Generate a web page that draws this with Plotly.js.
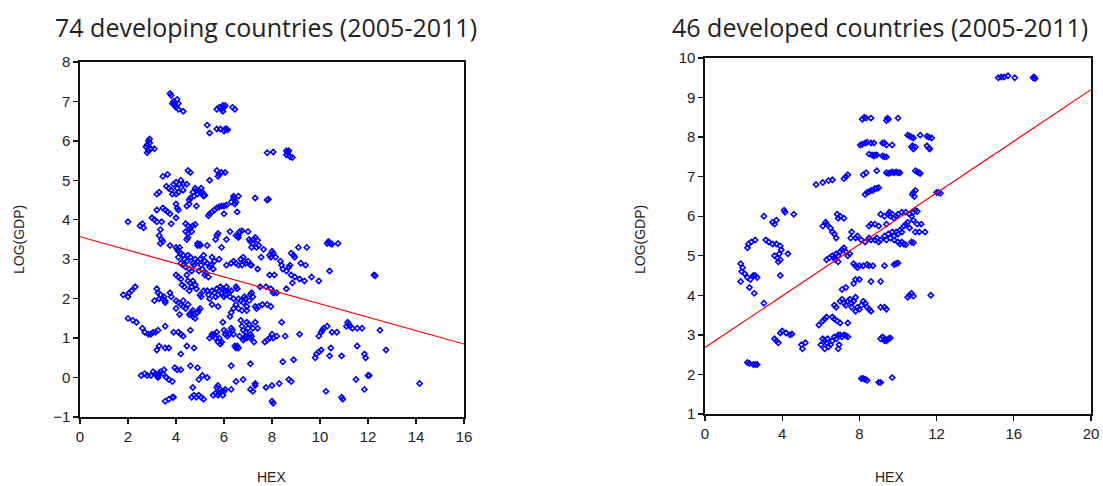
<!DOCTYPE html>
<html><head><meta charset="utf-8">
<script src="https://cdn.plot.ly/plotly-3.0.1.min.js"></script>
<style>body{margin:0;background:#fff}#c{width:1103px;height:486px}</style>
</head><body><div id="c"></div>
<script>
// Left panel: 74 developing countries (HEX, LOG(GDP))
const devHex = [3.75,3.8,3.9,3.85,3.95,4.0,4.05,4.1,4.1,4.3,3.95,
5.7,5.8,5.85,5.9,5.95,6.0,5.95,6.05,6.35,6.45,
5.3,5.4,5.7,5.85,6.0,6.05,6.1,6.15,
2.75,2.8,2.85,2.9,2.85,2.8,2.95,3.1,2.9,
7.8,8.05,8.6,8.65,8.7,8.6,8.75,8.85,
3.45,3.65,4.5,4.6,5.7,5.8,5.9,6.05,5.75,5.4,
3.7,3.8,3.9,4.0,4.05,4.1,4.15,4.2,3.85,4.0,3.6,4.3,4.3,4.45,3.3,3.2,
4.7,4.8,4.85,4.9,4.95,5.0,5.05,5.1,5.15,5.2,4.75,4.6,4.55,
4.0,4.05,4.45,4.55,4.85,3.45,3.55,3.75,4.1,3.2,4.0,3.65,
5.4,5.5,5.6,5.7,5.8,5.9,6.0,6.1,5.35,6.0,6.3,6.4,6.5,6.6,6.4,6.55,6.45,
7.3,7.8,7.85,
2.0,2.5,2.6,2.65,3.0,3.1,3.2,3.4,3.35,3.8,4.4,4.5,4.6,4.7,4.8,4.4,4.55,4.65,4.5,
3.3,3.4,3.35,3.45,3.75,4.0,4.05,4.1,4.15,4.2,4.3,4.45,4.5,4.9,5.0,5.3,5.7,5.75,5.65,5.9,6.1,6.25,6.6,6.65,6.75,7.0,7.05,7.1,7.2,7.25,7.3,7.4,7.45,7.35,7.15,7.65,7.55,8.0,8.05,7.9,7.95,8.15,8.8,8.9,8.95,9.1,9.45,10.3,10.35,10.4,10.45,10.5,10.75,
4.1,4.2,4.3,4.35,4.45,4.5,4.6,4.7,4.75,4.8,4.9,5.0,5.05,5.15,5.2,5.3,5.4,4.4,4.55,4.65,5.1,5.25,5.35,5.2,4.95,
6.1,6.3,6.4,6.5,6.6,6.7,6.8,6.85,6.9,7.0,7.1,7.15,6.75,7.4,8.4,8.45,8.35,8.7,8.75,8.8,8.6,7.9,8.1,8.95,9.2,9.4,9.65,9.95,10.4,12.25,12.3,9.15,9.35,8.85,
4.0,4.1,4.2,4.25,4.35,4.5,4.6,4.65,4.7,4.8,4.85,4.45,4.55,5.0,5.05,5.15,
5.5,5.6,5.7,5.75,5.8,5.85,5.9,5.95,6.0,6.05,6.1,6.15,6.2,6.25,6.3,6.0,5.65,6.5,6.55,5.4,5.5,5.75,6.4,5.3,5.35,
6.6,6.7,6.8,6.85,6.9,6.95,7.05,7.1,7.15,7.2,7.3,7.35,7.45,6.75,6.6,6.95,7.6,7.8,7.95,7.75,7.5,7.95,8.05,8.1,8.2,8.6,6.5,6.4,6.3,6.25,
1.8,2.0,2.05,2.15,2.3,3.2,3.25,3.35,3.45,3.55,3.3,3.1,3.5,3.75,3.8,3.55,4.0,4.1,4.2,4.3,4.4,4.5,4.6,4.7,4.8,4.9,4.95,5.0,4.65,4.15,4.3,4.0,4.75,4.55,4.7,
2.0,2.2,2.35,2.6,2.7,2.85,2.95,3.05,3.15,3.25,3.55,3.9,4.1,4.2,4.3,4.6,4.2,3.2,3.3,3.55,3.7,4.45,4.75,5.4,5.5,5.6,5.7,5.5,5.8,5.75,5.85,5.9,5.95,6.0,6.05,6.1,6.15,6.2,6.3,6.35,6.4,6.45,6.5,6.55,6.6,6.7,6.75,6.8,6.85,6.9,6.95,7.0,7.05,7.1,7.15,7.2,7.3,7.25,7.4,6.95,6.8,6.65,5.65,6.9,7.1,7.7,7.8,7.9,8.0,8.05,8.2,8.55,8.4,9.15,9.95,10.05,10.1,10.15,10.3,10.5,10.7,11.1,11.15,11.2,11.25,11.35,11.55,11.75,12.5,
7.1,8.45,8.9,9.8,9.85,9.95,10.05,10.4,10.45,10.9,11.55,11.85,11.9,12.75,4.9,4.6,4.2,3.95,4.05,6.3,
2.55,2.7,2.8,2.95,3.05,3.15,3.2,3.25,3.3,3.35,3.45,3.6,3.7,3.85,3.5,3.25,4.95,5.1,5.3,6.5,6.8,7.3,8.7,8.8,11.5,12.0,12.05,11.85,14.15,10.25,5.7,5.75,5.85,5.8,5.9,6.0,6.05,5.95,5.75,6.3,7.1,7.2,7.3,7.75,8.0,8.3,4.7,4.65,4.75,4.85,4.95,5.05,5.15,5.55,5.65,3.55,3.7,3.85,3.9,8.0,8.05,10.9,10.95,
5.6,5.8,5.5,5.45,5.55,6.6,6.5,4.9,5.0];
const devGdp = [7.2,7.15,7.0,6.95,6.9,6.85,7.05,6.95,6.8,6.75,6.95,
6.8,6.85,6.85,6.8,6.9,6.85,6.75,6.9,6.85,6.8,
6.4,6.2,6.3,6.3,6.25,6.3,6.3,6.28,
5.85,5.9,6.0,6.05,5.75,5.7,5.8,5.8,5.95,
5.7,5.72,5.75,5.7,5.75,5.65,5.6,5.58,
5.1,5.15,5.25,5.2,5.25,5.15,5.2,5.2,5.1,5.0,
4.8,4.75,4.9,4.95,4.8,4.7,4.9,5.0,4.65,4.65,4.85,4.75,4.9,4.9,4.7,4.65,
4.7,4.8,4.75,4.65,4.75,4.7,4.8,4.7,4.6,4.62,4.6,4.55,4.5,
4.4,4.3,4.35,4.4,4.35,4.3,4.25,4.15,4.25,4.25,4.05,4.2,
4.15,4.2,4.25,4.3,4.33,4.35,4.35,4.37,4.1,4.15,4.45,4.55,4.45,4.6,4.6,4.2,4.4,
4.55,4.5,4.52,
3.95,3.85,3.9,3.8,4.05,4.0,3.95,3.95,3.75,3.9,3.9,3.85,3.8,3.85,3.88,3.7,3.75,3.7,3.65,
3.6,3.5,3.4,3.45,3.35,3.3,3.25,3.2,3.3,3.15,3.1,3.5,3.55,3.4,3.35,3.35,3.6,3.65,3.5,3.3,3.5,3.7,3.6,3.7,3.72,3.7,3.5,3.45,3.4,3.5,3.55,3.48,3.35,3.3,3.3,3.25,3.05,3.2,3.15,3.1,3.05,3.05,3.15,3.1,3.05,3.3,3.3,3.4,3.45,3.42,3.4,3.38,3.4,
3.05,2.9,2.85,3.0,2.95,3.1,3.05,2.9,2.85,3.0,2.95,3.0,2.85,3.1,2.95,2.9,2.8,2.8,2.75,2.7,2.75,2.65,2.55,2.6,2.7,
2.85,2.9,2.95,2.9,2.85,3.0,3.05,2.95,2.9,2.95,2.85,2.85,2.85,2.75,2.85,2.75,2.95,2.8,2.85,2.6,2.7,2.6,2.6,2.55,2.9,2.85,2.55,2.45,2.7,2.6,2.58,2.5,2.45,2.4,
2.6,2.55,2.5,2.35,2.3,2.45,2.4,2.3,2.45,2.35,2.25,2.6,2.2,2.1,2.05,2.2,
2.2,2.15,2.25,2.1,2.2,2.3,2.15,2.25,2.2,2.1,2.3,2.2,2.15,2.05,2.2,2.05,2.05,2.3,2.25,2.0,1.85,1.8,2.0,2.2,2.1,
2.0,1.95,1.9,2.05,2.0,1.8,1.95,2.1,2.15,2.05,1.8,1.75,1.8,1.7,1.75,1.7,1.85,1.85,1.8,2.3,2.3,2.25,2.15,2.15,2.15,2.25,1.85,1.75,1.65,1.55,
2.1,2.05,2.15,2.2,2.3,2.25,2.15,2.1,2.0,1.9,2.0,1.95,2.05,2.15,2.05,1.95,1.95,1.9,1.85,1.8,1.75,1.85,1.6,1.55,1.5,1.65,1.7,1.75,1.65,1.6,1.95,1.75,1.6,1.6,1.7,
1.5,1.45,1.4,1.25,1.15,1.1,1.1,1.15,1.15,1.2,1.3,1.15,1.15,1.1,1.05,1.2,0.6,0.7,0.8,0.75,0.75,0.8,0.75,1.0,1.05,1.1,1.15,1.1,1.0,0.9,0.85,0.9,1.4,1.2,1.1,1.15,1.05,1.1,1.25,1.2,1.1,0.8,0.75,0.8,0.75,1.45,1.3,1.2,1.0,1.05,1.0,1.25,1.35,1.1,1.05,1.25,1.4,0.9,1.25,1.4,0.95,1.05,1.0,1.15,1.0,0.9,0.95,1.0,1.1,1.0,1.05,1.05,1.4,1.1,1.05,1.15,1.2,1.25,1.3,1.15,1.15,1.3,1.4,1.35,1.3,1.25,1.25,1.25,1.2,
0.35,0.4,0.45,0.5,0.6,0.65,0.7,0.55,0.75,0.55,0.8,0.6,0.5,0.7,0.25,0.3,0.2,0.25,0.2,0.3,
0.05,0.1,0.05,0.05,0.15,0.1,0.05,0.0,0.1,0.15,0.1,0.0,-0.05,-0.1,0.2,0.05,-0.05,0.05,0.0,-0.1,-0.05,-0.15,-0.05,-0.1,-0.05,0.05,0.05,-0.3,-0.15,-0.35,-0.25,-0.2,-0.3,-0.4,-0.35,-0.35,-0.3,-0.45,-0.45,-0.3,-0.3,-0.35,-0.2,-0.25,-0.2,-0.15,-0.25,-0.5,-0.45,-0.5,-0.45,-0.5,-0.55,-0.45,-0.4,-0.6,-0.55,-0.5,-0.5,-0.6,-0.65,-0.5,-0.55,
2.95,3.0,3.05,2.85,2.75,3.55,3.6,3.35,3.38];
const devFitX = [0, 16];
const devFitY = [3.57, 0.85];

// Right panel: 46 developed countries
const dvdHex = [15.2,15.35,15.5,15.7,16.05,17.0,17.05,17.1,
8.15,8.25,8.35,8.6,9.4,9.45,9.5,10.0,
10.5,10.6,10.7,10.8,11.15,11.5,11.6,11.75,
8.05,8.15,8.3,8.4,8.6,8.75,9.2,9.3,9.4,9.7,10.7,10.75,10.8,10.9,11.5,11.6,11.65,
8.5,8.65,8.75,8.8,8.9,9.2,9.3,9.4,
8.2,8.35,8.9,9.4,9.5,9.6,9.7,9.8,9.9,10.0,10.1,10.9,11.0,11.1,11.15,5.75,6.1,6.4,6.6,7.2,7.3,7.4,
8.3,8.4,8.5,8.6,8.7,8.8,8.9,9.0,10.75,10.8,10.85,10.9,12.0,12.1,12.2,
3.05,3.5,3.6,3.7,4.1,4.15,4.6,
2.2,2.25,2.4,2.6,3.15,3.3,3.5,3.7,3.9,3.95,3.85,3.6,3.75,3.8,3.9,4.3,3.9,1.85,1.95,1.9,2.05,2.2,2.35,2.5,2.6,2.7,1.85,2.3,2.55,3.05,
6.1,6.25,6.3,6.5,6.6,6.7,6.8,6.85,6.9,7.0,7.2,6.3,6.45,6.6,6.7,6.8,6.9,7.0,7.1,7.2,7.3,7.4,7.5,6.9,6.75,7.6,7.55,7.8,7.9,8.1,8.3,8.5,8.6,8.8,8.9,9.0,9.1,7.7,7.8,7.9,8.0,8.2,8.4,8.5,8.7,9.3,9.8,9.9,10.0,7.1,7.3,7.7,7.8,8.0,8.6,9.1,
8.5,8.6,8.8,9.0,9.1,9.3,9.4,9.5,9.55,9.6,9.7,9.8,9.9,10.0,10.2,10.4,10.6,10.7,10.8,10.9,11.0,9.7,9.8,9.9,10.0,10.1,10.2,10.3,10.4,10.5,10.6,10.8,11.0,11.2,10.9,11.1,11.4,9.4,9.6,9.8,10.0,10.1,10.2,10.3,10.4,10.7,10.8,9.3,9.5,
7.0,7.1,7.2,7.3,7.4,7.5,7.6,7.7,7.8,7.9,8.0,8.1,8.2,8.3,8.4,8.5,8.6,6.7,6.8,7.8,7.6,9.1,9.3,9.4,10.5,10.6,10.7,10.8,11.7,
5.9,6.1,6.2,6.3,6.6,6.7,6.85,7.0,7.4,
3.7,3.8,3.9,4.0,4.2,4.4,4.5,3.6,5.0,5.05,5.2,6.0,6.1,6.2,6.3,6.4,6.5,6.2,6.35,6.6,6.7,6.8,6.9,6.95,6.9,7.0,7.1,7.2,7.3,7.4,9.1,9.2,9.3,9.4,9.5,9.6,9.3,
2.2,2.3,2.5,2.6,2.7,8.1,8.2,8.3,8.4,9.0,9.1,9.7];
const dvdGdp = [9.5,9.52,9.52,9.55,9.5,9.5,9.52,9.48,
8.45,8.5,8.48,8.48,8.42,8.48,8.45,8.48,
8.05,8.03,8.0,7.98,8.05,8.02,8.0,7.98,
7.8,7.82,7.85,7.87,7.85,7.85,7.85,7.85,7.8,7.8,7.75,7.78,7.7,7.75,7.78,7.72,7.7,
7.57,7.55,7.52,7.55,7.55,7.52,7.5,7.5,
7.05,7.1,7.15,7.1,7.08,7.1,7.12,7.1,7.12,7.1,7.1,7.15,7.12,7.1,7.08,6.8,6.85,6.9,6.92,6.95,7.0,7.05,
6.55,6.6,6.62,6.65,6.65,6.7,6.7,6.72,6.55,6.6,6.5,6.65,6.6,6.6,6.58,
6.0,5.85,5.8,5.9,6.15,6.1,6.05,
5.2,5.3,5.35,5.4,5.4,5.35,5.3,5.3,5.25,5.15,5.05,5.0,4.95,4.85,4.9,5.05,4.5,4.8,4.7,4.6,4.55,4.45,4.4,4.5,4.5,4.45,4.35,4.2,4.05,3.8,
5.75,5.85,5.8,5.7,5.6,5.55,5.45,6.05,5.95,6.0,5.95,4.9,4.95,5.0,4.95,5.05,5.0,5.1,5.15,5.2,5.1,5.0,5.05,4.85,4.9,5.6,5.45,5.45,5.5,5.4,5.35,5.45,5.4,5.4,5.45,5.35,5.4,4.8,4.75,4.7,4.75,4.75,4.78,4.75,4.75,4.75,4.78,4.8,4.82,4.15,4.2,4.3,4.4,4.4,4.35,4.35,
5.75,5.8,5.8,5.75,6.05,6.0,5.8,6.05,6.1,6.0,6.05,5.95,6.0,6.05,6.1,6.1,6.05,6.0,6.1,6.15,6.12,5.6,5.5,5.6,5.55,5.65,5.6,5.75,5.8,5.85,5.7,5.9,5.8,5.8,5.6,5.6,5.6,5.4,5.45,5.4,5.35,5.3,5.35,5.3,5.28,5.35,5.33,5.5,5.55,
3.85,3.9,3.8,3.75,3.85,3.9,3.8,3.85,3.95,3.7,3.65,3.75,3.85,3.8,3.7,3.65,3.6,3.75,3.7,3.6,3.7,3.7,3.7,3.65,3.95,4.0,4.05,3.98,4.0,
3.25,3.35,3.4,3.45,3.45,3.4,3.35,3.3,3.3,
2.85,2.8,3.05,3.1,3.05,3.0,3.02,2.9,2.75,2.65,2.8,2.75,2.9,2.85,2.8,2.7,2.75,2.65,2.9,2.85,2.95,2.9,2.65,2.75,3.0,3.0,2.95,3.0,2.98,2.95,2.9,2.95,2.9,2.85,2.9,2.92,2.85,
2.3,2.28,2.25,2.25,2.25,1.9,1.9,1.88,1.85,1.8,1.8,1.92];
const dvdFitX = [0, 20];
const dvdFitY = [2.68, 9.2];

const blue = '#0000ff';
const mk = {symbol: 'diamond-open', size: 4, color: blue, line: {width: 1.6, color: blue}};
const data = [
  {x: devHex, y: devGdp, type: 'scatter', mode: 'markers', marker: mk, xaxis: 'x', yaxis: 'y', hoverinfo: 'x+y'},
  {x: devFitX, y: devFitY, type: 'scatter', mode: 'lines', line: {color: '#ff0000', width: 1.2}, xaxis: 'x', yaxis: 'y'},
  {x: dvdHex, y: dvdGdp, type: 'scatter', mode: 'markers', marker: mk, xaxis: 'x2', yaxis: 'y2', hoverinfo: 'x+y'},
  {x: dvdFitX, y: dvdFitY, type: 'scatter', mode: 'lines', line: {color: '#ff0000', width: 1.2}, xaxis: 'x2', yaxis: 'y2'}
];
const tickFont = {family: 'Arial, Liberation Sans, sans-serif', size: 15, color: '#222'};
const lblFont = {family: 'Arial, Liberation Sans, sans-serif', size: 14, color: '#222'};
const ax = {showline: true, linecolor: '#111', linewidth: 1.6, mirror: true, ticks: 'outside', ticklen: 5,
  tickcolor: '#111', tickwidth: 1.3, showgrid: false, zeroline: false, tickfont: tickFont};
const W = 1103, H = 486;
const layout = {
  width: W, height: H, showlegend: false,
  paper_bgcolor: '#fff', plot_bgcolor: '#fff',
  margin: {l: 0, r: 0, t: 0, b: 0},
  xaxis: Object.assign({}, ax, {domain: [80/W, 464/W], range: [0, 16], tickvals: [0,2,4,6,8,10,12,14,16], anchor: 'y'}),
  yaxis: Object.assign({}, ax, {domain: [1-417/H, 1-62/H], range: [-1, 8], tickvals: [-1,0,1,2,3,4,5,6,7,8], anchor: 'x'}),
  xaxis2: Object.assign({}, ax, {domain: [705/W, 1091/W], range: [0, 20], tickvals: [0,4,8,12,16,20], anchor: 'y2'}),
  yaxis2: Object.assign({}, ax, {domain: [1-414/H, 1-58/H], range: [1, 10], tickvals: [1,2,3,4,5,6,7,8,9,10], anchor: 'x2'}),
  annotations: [
    {text: '74 developing countries (2005-2011)', xref: 'paper', yref: 'paper', x: 266/W, y: 1-27/H, showarrow: false,
     font: {family: 'Open Sans, sans-serif', size: 25, color: '#222'}, xanchor: 'center', yanchor: 'middle'},
    {text: '46 developed countries (2005-2011)', xref: 'paper', yref: 'paper', x: 880/W, y: 1-27/H, showarrow: false,
     font: {family: 'Open Sans, sans-serif', size: 25, color: '#222'}, xanchor: 'center', yanchor: 'middle'},
    {text: 'HEX', xref: 'paper', yref: 'paper', x: 271/W, y: 1-477/H, showarrow: false, font: lblFont, xanchor: 'center', yanchor: 'middle'},
    {text: 'HEX', xref: 'paper', yref: 'paper', x: 889/W, y: 1-477/H, showarrow: false, font: lblFont, xanchor: 'center', yanchor: 'middle'},
    {text: 'LOG(GDP)', xref: 'paper', yref: 'paper', x: 19/W, y: 1-240/H, showarrow: false, font: lblFont, textangle: -90, xanchor: 'center', yanchor: 'middle'},
    {text: 'LOG(GDP)', xref: 'paper', yref: 'paper', x: 640/W, y: 1-240/H, showarrow: false, font: lblFont, textangle: -90, xanchor: 'center', yanchor: 'middle'}
  ]
};
Plotly.newPlot('c', data, layout, {staticPlot: true});
</script></body></html>
